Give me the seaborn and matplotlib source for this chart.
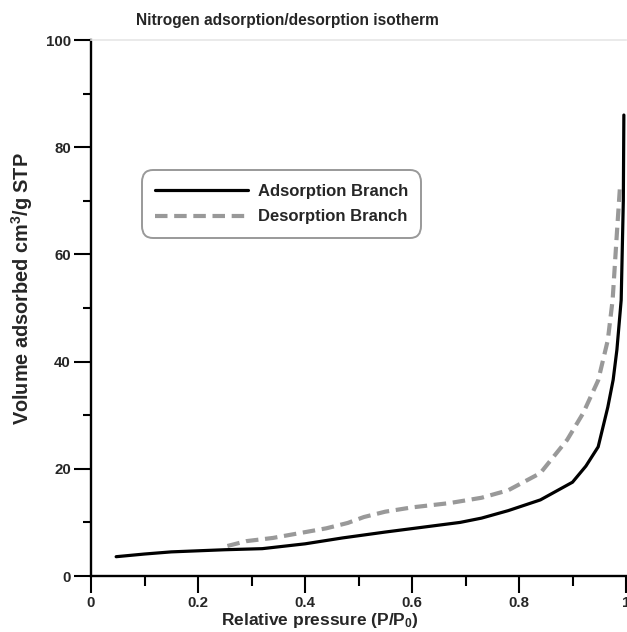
import matplotlib
matplotlib.use("Agg")
import matplotlib.pyplot as plt
import seaborn as sns
import pandas as pd

# Adsorption branch (relative pressure, volume adsorbed)
ads_p = [0.047, 0.10, 0.15, 0.20, 0.25, 0.32, 0.40, 0.47, 0.55, 0.62, 0.69, 0.73,
         0.78, 0.84, 0.90, 0.925, 0.948, 0.966, 0.976, 0.983, 0.991, 0.995, 0.996]
ads_v = [3.6, 4.1, 4.5, 4.7, 4.9, 5.1, 6.0, 7.1, 8.2, 9.1, 10.0, 10.8,
         12.2, 14.2, 17.5, 20.5, 24.1, 31.5, 36.6, 42.2, 51.5, 70.0, 86.0]

# Desorption branch
des_p = [0.255, 0.29, 0.34, 0.39, 0.44, 0.48, 0.51, 0.55, 0.60, 0.67, 0.73, 0.78,
         0.84, 0.89, 0.92, 0.948, 0.966, 0.975, 0.983, 0.989]
des_v = [5.6, 6.5, 7.1, 8.0, 8.9, 9.9, 11.0, 12.0, 12.8, 13.6, 14.6, 16.0,
         19.2, 25.4, 30.4, 36.5, 44.0, 51.5, 64.0, 73.0]

x_ticks = [0, 0.2, 0.4, 0.6, 0.8, 1]
x_tick_labels = ["0", "0.2", "0.4", "0.6", "0.8", "1"]
x_minor = [0.1, 0.3, 0.5, 0.7, 0.9]
y_ticks = [0, 20, 40, 60, 80, 100]
y_minor = [10, 30, 50, 70, 90]

sns.set_style("ticks")
plt.rcParams["font.family"] = ["Liberation Sans", "DejaVu Sans"]
plt.rcParams["font.weight"] = "bold"
plt.rcParams["mathtext.fontset"] = "custom"
plt.rcParams["mathtext.rm"] = "Liberation Sans:bold"
plt.rcParams["mathtext.default"] = "rm"

ads = pd.DataFrame({"p": ads_p, "v": ads_v})
des = pd.DataFrame({"p": des_p, "v": des_v})

W, H = 627, 632
fig = plt.figure(figsize=(W / 100, H / 100), dpi=100)
ax = fig.add_axes([91 / W, 1 - 576 / H, 535 / W, 536 / H])

sns.lineplot(data=ads, x="p", y="v", sort=False, ax=ax, color="black",
             linewidth=2.3, label="Adsorption Branch")
sns.lineplot(data=des, x="p", y="v", sort=False, ax=ax, color="#999999",
             linewidth=3.0, dashes=False, label="Desorption Branch")
ax.lines[1].set_dashes((3.0, 1.6))

ax.set_xlim(0, 1)
ax.set_ylim(0, 100)
ax.set_xticks(x_ticks)
ax.set_xticklabels(x_tick_labels)
ax.set_xticks(x_minor, minor=True)
ax.set_yticks(y_ticks)
ax.set_yticks(y_minor, minor=True)
ax.tick_params(axis="both", which="both", direction="out", width=1.5,
               color="black", labelsize=10.8)
ax.tick_params(axis="both", which="major", length=12.5)
ax.tick_params(axis="x", which="major", pad=2)
ax.tick_params(axis="y", which="major", pad=2)
ax.tick_params(axis="x", which="minor", length=7)
ax.tick_params(axis="y", which="minor", length=6)
for lbl in ax.get_xticklabels() + ax.get_yticklabels():
    lbl.set_fontweight("bold")

for side in ["left", "bottom"]:
    ax.spines[side].set_linewidth(1.7)
    ax.spines[side].set_color("black")
ax.spines["top"].set_visible(True)
ax.spines["top"].set_color("#e6e6e6")
ax.spines["top"].set_linewidth(1.2)
ax.spines["right"].set_visible(False)

ax.set_xlabel("")
ax.set_ylabel("")
fig.text(287 / W, 1 - 20 / H, "Nitrogen adsorption/desorption isotherm",
         fontsize=11.2, fontweight="bold", ha="center", va="center")
fig.text(320 / W, 1 - 625 / H, "Relative pressure (P/P$_0$)",
         fontsize=12.5, fontweight="bold", ha="center", va="baseline")
fig.text(22 / W, 1 - 289 / H, "Volume adsorbed cm$^3$/g STP",
         fontsize=14.3, fontweight="bold", ha="center", va="center",
         rotation=90)

leg = ax.legend(loc="upper left", bbox_to_anchor=(0.095, 0.757), frameon=True,
                fancybox=True, handlelength=5.6, handletextpad=0.55,
                borderpad=0.8, labelspacing=0.65, borderaxespad=0,
                prop={"weight": "bold", "size": 12})
frame = leg.get_frame()
frame.set_edgecolor("#999999")
frame.set_linewidth(1.4)
frame.set_alpha(1)
frame.set_boxstyle("round,pad=0,rounding_size=0.7")

fig.savefig("out.png", dpi=100)
